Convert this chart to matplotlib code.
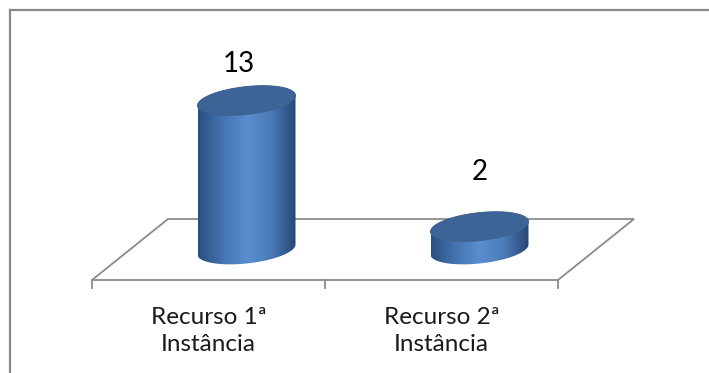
import numpy as np
import matplotlib
matplotlib.use("Agg")
import matplotlib.pyplot as plt
from matplotlib.patches import Polygon
from matplotlib.colors import LinearSegmentedColormap
from matplotlib.lines import Line2D

categories = ["Recurso 1ª\nInstância", "Recurso 2ª\nInstância"]
values = [13, 2]

plt.rcParams["font.family"] = ["Lato", "DejaVu Sans"]

W, H = 709, 373
fig = plt.figure(figsize=(W / 100, H / 100), dpi=100)
ax = fig.add_axes([0, 0, 1, 1])
ax.set_axis_off()

# scale: one category = 233 px, one value unit = 11.46 px; y=0 is the front floor edge
px_cat, px_val = 233.0, 11.46
x0_px, y0_px = 208.5, 280.0
ax.set_xlim(-x0_px / px_cat, (W - x0_px) / px_cat)
ax.set_ylim((y0_px - H) / px_val, y0_px / px_val)

depth_x, depth_y = 76 / px_cat, 61 / px_val   # floor depth as seen in perspective
rad_x, rad_y = 49 / px_cat, 14 / px_val       # cylinder cross-section ellipse
shear = 2.07                                  # slight tilt of the ellipses

grey = "#8a8a8a"

# floor
n = len(categories)
floor = Polygon([(-0.5, 0), (n - 0.5, 0), (n - 0.5 + depth_x, depth_y), (-0.5 + depth_x, depth_y)],
                closed=True, facecolor="white", edgecolor=grey, lw=1.3, zorder=1)
ax.add_patch(floor)
for t in np.arange(n + 1) - 0.5:
    ax.plot([t, t], [0, -8 / px_val], color=grey, lw=1.3, zorder=1)

body_cmap = LinearSegmentedColormap.from_list(
    "cyl", ["#2b4f80", "#4574b0", "#5a8ed0", "#4a7ab8", "#274773"])
top_color = "#3c6497"


def ellipse_pts(cx, cy, t):
    x = cx + rad_x * np.cos(t)
    y = cy + rad_y * np.sin(t) + shear * (x - cx)
    return x, y


label_lift = [37, 55]
for i, v in enumerate(values):
    cx = i + depth_x / 2
    base = depth_y / 2
    top = base + v
    tb = np.linspace(np.pi, 2 * np.pi, 80)
    bx, by = ellipse_pts(cx, base, tb)
    tx, ty = ellipse_pts(cx, top, tb[::-1])
    body = Polygon(np.column_stack([np.r_[bx, tx], np.r_[by, ty]]), closed=True,
                   facecolor="none", edgecolor="none", zorder=3)
    ax.add_patch(body)
    grad = np.linspace(0, 1, 256).reshape(1, -1)
    im = ax.imshow(grad, cmap=body_cmap, aspect="auto", zorder=3,
                   extent=[cx - rad_x, cx + rad_x, base - 3 * rad_y, top + 3 * rad_y])
    im.set_clip_path(body)

    tf = np.linspace(0, 2 * np.pi, 160)
    ex, ey = ellipse_pts(cx, top, tf)
    ax.add_patch(Polygon(np.column_stack([ex, ey]), closed=True,
                         facecolor=top_color, edgecolor="#35598a", lw=0.6, zorder=4))

    ax.annotate(str(v), (cx, top), xytext=(-8 * 0.72 * (i == 0), label_lift[i] * 0.72),
                textcoords="offset points", ha="center", va="center",
                fontsize=20, color="black", zorder=5)

for i, c in enumerate(categories):
    ax.text(i, (y0_px - 331) / px_val, c, ha="center", va="center",
            multialignment="center", fontsize=17.5, linespacing=1.3, color="#1a1a1a")

ax.set_xlim(-x0_px / px_cat, (W - x0_px) / px_cat)
ax.set_ylim((y0_px - H) / px_val, y0_px / px_val)

# chart border
fig.add_artist(Line2D([10 / W, 10 / W], [0, 1 - 10 / H], color="#888888", lw=1.6))
fig.add_artist(Line2D([10 / W, 1], [1 - 10 / H, 1 - 10 / H], color="#888888", lw=1.6))

fig.savefig("out.png", dpi=100)
